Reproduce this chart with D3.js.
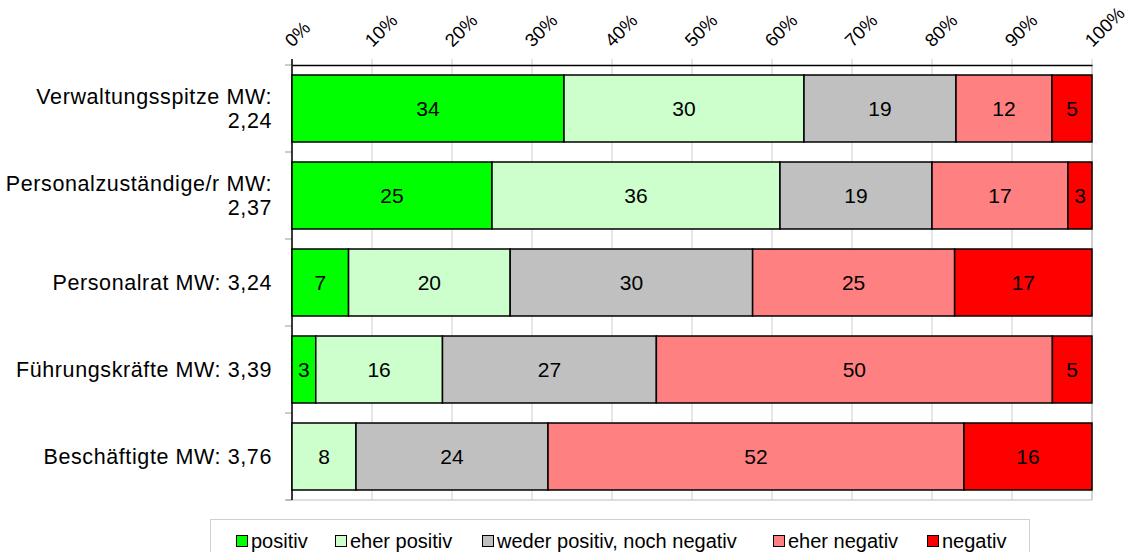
<!DOCTYPE html>
<html>
<head>
<meta charset="utf-8">
<script src="https://cdn.jsdelivr.net/npm/d3@7"></script>
<style>
  html, body { margin: 0; padding: 0; background: #fff; }
  svg { display: block; font-family: "Liberation Sans", Arial, sans-serif; }
</style>
</head>
<body>
<svg id="chart" width="1135" height="552"></svg>
<script>
// Groups (with their mean value) and answer shares in percent
const categories = [
  "Verwaltungsspitze MW: 2,24",
  "Personalzuständige/r MW: 2,37",
  "Personalrat MW: 3,24",
  "Führungskräfte MW: 3,39",
  "Beschäftigte MW: 3,76"
];
const seriesNames = ["positiv", "eher positiv", "weder positiv, noch negativ", "eher negativ", "negativ"];
const positiv      = [34, 25, 7, 3, 0];
const eherPositiv  = [30, 36, 20, 16, 8];
const weder        = [19, 19, 30, 27, 24];
const eherNegativ  = [12, 17, 25, 50, 52];
const negativ      = [5, 3, 17, 5, 16];
const tickValues   = [0, 0.1, 0.2, 0.3, 0.4, 0.5, 0.6, 0.7, 0.8, 0.9, 1];

const colors = ["#00FF00", "#CCFFCC", "#C0C0C0", "#FF8080", "#FF0000"];
const seriesValues = [positiv, eherPositiv, weder, eherNegativ, negativ];

const rows = categories.map((c, i) => {
  const r = { cat: c };
  seriesNames.forEach((s, k) => { r[s] = seriesValues[k][i]; });
  return r;
});

const stack = d3.stack().keys(seriesNames).offset(d3.stackOffsetExpand);
const layers = stack(rows);

const svg = d3.select("#chart");
const plotL = 292, plotR = 1092, plotT = 65, plotB = 500;

const x = d3.scaleLinear().domain([0, 1]).range([plotL, plotR]);
const y = d3.scaleBand().domain(categories).range([plotT, plotB])
  .paddingInner(0.23).paddingOuter(0.115);

// vertical gridlines
svg.append("g").selectAll("line").data(tickValues).join("line")
  .attr("x1", d => x(d)).attr("x2", d => x(d))
  .attr("y1", plotT - 6).attr("y2", plotB)
  .attr("stroke", "#cfcfcf").attr("stroke-width", 1);

// plot frame: bottom and right in light grey
svg.append("line").attr("x1", plotL - 6).attr("x2", plotR).attr("y1", plotB).attr("y2", plotB)
  .attr("stroke", "#bdbdbd");
svg.append("line").attr("x1", plotR).attr("x2", plotR).attr("y1", plotT).attr("y2", plotB)
  .attr("stroke", "#bdbdbd");

// category ticks on the left
const bounds = d3.range(categories.length + 1).map(i => plotT + i * y.step());
svg.append("g").selectAll("line").data(bounds).join("line")
  .attr("x1", plotL - 7).attr("x2", plotL)
  .attr("y1", d => d).attr("y2", d => d)
  .attr("stroke", "#9a9a9a");

// top axis with rotated percentage labels
const xAxis = d3.axisTop(x).tickValues(tickValues).tickSize(0).tickFormat(d3.format(".0%"));
const gx = svg.append("g").attr("transform", `translate(0,${plotT})`).call(xAxis);
gx.select(".domain").attr("stroke", "#000").attr("stroke-width", 1.5);
gx.selectAll(".tick text")
  .attr("font-size", 18.5).attr("fill", "#000")
  .attr("text-anchor", "start")
  .attr("y", 0).attr("dy", 0)
  .attr("transform", "translate(0,-17) rotate(-45)");

// left axis line
svg.append("line").attr("x1", plotL).attr("x2", plotL).attr("y1", plotT - 6).attr("y2", plotB)
  .attr("stroke", "#000").attr("stroke-width", 1.5);

// bars
const segs = svg.append("g").selectAll("g").data(layers).join("g")
  .attr("fill", (d, i) => colors[i]);
segs.selectAll("rect").data(d => d.filter(p => p[1] - p[0] > 0)).join("rect")
  .attr("x", d => x(d[0])).attr("width", d => x(d[1]) - x(d[0]))
  .attr("y", d => y(d.data.cat)).attr("height", y.bandwidth())
  .attr("stroke", "#000").attr("stroke-width", 1.5);

// segment value labels
layers.forEach((layer, k) => {
  svg.append("g").selectAll("text").data(layer.filter(p => p[1] - p[0] > 0)).join("text")
    .attr("x", d => (x(d[0]) + x(d[1])) / 2)
    .attr("y", d => y(d.data.cat) + y.bandwidth() / 2)
    .attr("dy", "0.36em")
    .attr("text-anchor", "middle")
    .attr("font-size", 21)
    .text(d => d.data[layer.key]);
});

// category labels, wrapped when too wide
const catFont = 21.5, catSpacing = 0.6, maxW = 268, lineH = 24;
const catG = svg.append("g");
categories.forEach(c => {
  const t = catG.append("text").attr("text-anchor", "end")
    .attr("font-size", catFont).attr("letter-spacing", catSpacing);
  const words = c.split(" ");
  let lines = [], cur = [];
  const probe = catG.append("text").attr("font-size", catFont)
    .attr("letter-spacing", catSpacing).attr("visibility", "hidden");
  words.forEach(w => {
    const test = cur.concat(w).join(" ");
    probe.text(test);
    if (probe.node().getComputedTextLength() > maxW && cur.length) {
      lines.push(cur.join(" "));
      cur = [w];
    } else {
      cur.push(w);
    }
  });
  lines.push(cur.join(" "));
  probe.remove();
  const cy = y(c) + y.bandwidth() / 2;
  const first = cy - (lines.length - 1) * lineH / 2 + 7.5;
  lines.forEach((ln, i) => {
    t.append("tspan").attr("x", 272).attr("y", first + i * lineH).text(ln);
  });
});

// legend
const legend = svg.append("g");
legend.append("rect").attr("x", 210.5).attr("y", 519.5).attr("width", 819).attr("height", 45)
  .attr("fill", "#fff").attr("stroke", "#cfcfcf");
const legX = [236, 335, 482, 773, 927];
seriesNames.forEach((s, i) => {
  legend.append("rect").attr("x", legX[i] + 0.5).attr("y", 535.5).attr("width", 11).attr("height", 11)
    .attr("fill", colors[i]).attr("stroke", "#000").attr("stroke-width", 1);
  legend.append("text").attr("x", legX[i] + 15).attr("y", 547.5)
    .attr("font-size", 20).text(s);
});
</script>
</body>
</html>
